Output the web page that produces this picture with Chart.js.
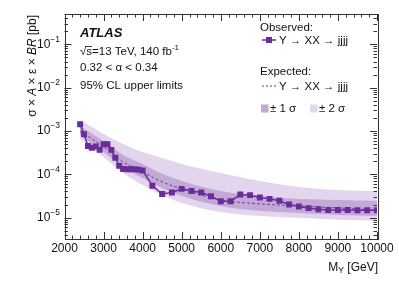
<!DOCTYPE html>
<html><head><meta charset="utf-8">
<script src="https://cdn.jsdelivr.net/npm/chart.js@4"></script>
<style>html,body{margin:0;padding:0;background:#fff}</style>
</head><body><canvas id="c" width="399" height="286"></canvas>
<script>
// ---- data ----
const obsMass = [2400,2500,2600,2700,2800,2900,3000,3100,3200,3300,3400,3500,3600,3700,3800,3900,4000,
  4250,4500,4750,5000,5250,5500,5750,6000,6250,6500,6750,7000,7250,7500,7750,8000,8250,8500,8750,9000,9250,9500,9750,10000];
const obsLimit = [1.43e-3,8.4e-4,4.5e-4,4.1e-4,4.35e-4,3.65e-4,4.9e-4,4.9e-4,3.65e-4,2.4e-4,1.56e-4,1.32e-4,1.30e-4,1.30e-4,1.30e-4,1.28e-4,1.22e-4,
  5.4e-5,3.5e-5,3.8e-5,4.6e-5,4.1e-5,3.8e-5,3.1e-5,2.37e-5,2.37e-5,3.4e-5,3.3e-5,2.9e-5,2.7e-5,2.45e-5,2.0e-5,1.8e-5,1.65e-5,1.55e-5,1.5e-5,1.5e-5,1.49e-5,1.48e-5,1.47e-5,1.47e-5];
const expMass = [2400,3000,3500,4000,4500,5000,6000,7000,8000,9000,10000];
const expLimit = [1.0e-3,4.25e-4,1.92e-4,1.13e-4,6.65e-5,4.58e-5,2.56e-5,2.07e-5,1.86e-5,1.67e-5,1.5e-5];
const plus2 = [1.78e-3,8.5e-4,4.99e-4,3.27e-4,2.38e-4,1.73e-4,1.07e-4,7.0e-5,5.1e-5,4.35e-5,4.1e-5];
const plus1 = [1.3e-3,5.85e-4,2.79e-4,1.73e-4,1.02e-4,7.0e-5,4.1e-5,3.16e-5,2.7e-5,2.56e-5,2.43e-5];
const minus1 = [8.05e-4,3.27e-4,1.47e-4,8.2e-5,4.83e-5,3.16e-5,1.86e-5,1.43e-5,1.28e-5,1.15e-5,1.09e-5];
const minus2 = [6.5e-4,2.5e-4,1.07e-4,5.67e-5,3.33e-5,2.18e-5,1.35e-5,1.09e-5,9.85e-6,8.85e-6,8.4e-6];
const xTicks = [2000,3000,4000,5000,6000,7000,8000,9000,10000];
const yDecades = [-5,-4,-3,-2,-1];

// ---- style ----
const FONT = '"Liberation Sans", Arial, Helvetica, sans-serif';
const PURPLE = '#6a2c9a';
const BAND1 = '#c2a9d6';
const BAND2 = '#e2d5ed';
const TXT = '#111';

const pts = (xs, ys) => xs.map((x, i) => ({x, y: ys[i]}));

function rich(ctx, parts, x, y, align) {
  let w = 0;
  parts.forEach(p => { ctx.font = p[1]; w += ctx.measureText(p[0]).width; });
  let cx = align === 'right' ? x - w : x;
  parts.forEach(p => { ctx.font = p[1]; ctx.fillText(p[0], cx, y + (p[2] || 0)); cx += ctx.measureText(p[0]).width; });
  return w;
}

const deco = {
  id: 'deco',
  afterDatasetsDraw(chart) {
    const {ctx, chartArea: a, scales: {x, y}} = chart;
    ctx.save();
    ctx.strokeStyle = '#333'; ctx.lineWidth = 1;
    ctx.beginPath();
    for (let v = 2000; v <= 10000; v += 200) {
      const px = Math.round(x.getPixelForValue(v)) + 0.5;
      const len = (v % 1000 === 0) ? 7 : 3.5;
      ctx.moveTo(px, a.bottom); ctx.lineTo(px, a.bottom - len);
      ctx.moveTo(px, a.top); ctx.lineTo(px, a.top + len);
    }
    for (let e = -6; e <= 0; e++) {
      for (let k = 1; k <= 9; k++) {
        const v = k * Math.pow(10, e);
        if (v < y.min || v > y.max) continue;
        const py = Math.round(y.getPixelForValue(v)) + 0.5;
        const len = k === 1 ? 7 : 3.5;
        ctx.moveTo(a.left, py); ctx.lineTo(a.left + len, py);
        ctx.moveTo(a.right, py); ctx.lineTo(a.right - len, py);
      }
    }
    ctx.stroke();
    ctx.strokeRect(Math.round(a.left) + 0.5, Math.round(a.top) + 0.5, Math.round(a.right - a.left), Math.round(a.bottom - a.top));

    ctx.fillStyle = TXT;
    ctx.textBaseline = 'middle';
    yDecades.forEach(d => {
      const py = y.getPixelForValue(Math.pow(10, d));
      rich(ctx, [['10', '12px ' + FONT, 0], ['\u2212' + Math.abs(d), '8.5px ' + FONT, -5]], 60, py, 'right');
    });
    ctx.save();
    ctx.translate(33, 15);
    ctx.rotate(-Math.PI / 2);
    const n = '12px ' + FONT, it = 'italic 12px ' + FONT;
    rich(ctx, [['\u03c3 \u00d7 ', n], ['A', it], [' \u00d7 \u03b5 \u00d7 ', n], ['BR', it], [' [pb]', n]], 0, 0, 'right');
    ctx.restore();
    rich(ctx, [['M', n], ['Y', '8.5px ' + FONT, 3], [' [GeV]', n]], 378, 268, 'right');

    const t = '11.5px ' + FONT;
    ctx.font = 'bold italic 13px ' + FONT;
    ctx.fillText('ATLAS', 80, 33);
    const w0 = rich(ctx, [['\u221a', t]], 80, 52);
    ctx.font = t;
    const sw = ctx.measureText('s').width;
    ctx.beginPath(); ctx.lineWidth = 0.8; ctx.strokeStyle = TXT;
    ctx.moveTo(80 + w0 - 1, 46.5); ctx.lineTo(80 + w0 + sw, 46.5); ctx.stroke();
    rich(ctx, [['s=13 TeV, 140 fb', t], ['-1', '8px ' + FONT, -4]], 80 + w0, 52);
    rich(ctx, [['0.32 < \u03b1 < 0.34', t]], 80, 68);
    rich(ctx, [['95% CL upper limits', t]], 80, 86);

    rich(ctx, [['Observed:', t]], 260, 27.5);
    ctx.strokeStyle = PURPLE; ctx.lineWidth = 1.5;
    ctx.beginPath(); ctx.moveTo(262, 40); ctx.lineTo(276, 40); ctx.stroke();
    ctx.fillStyle = PURPLE; ctx.fillRect(266, 37, 6, 6);
    ctx.fillStyle = TXT;
    rich(ctx, [['Y \u2192 XX \u2192 jjjj', t]], 279, 40.5);
    rich(ctx, [['Expected:', t]], 260, 71.5);
    ctx.strokeStyle = PURPLE; ctx.lineWidth = 1; ctx.setLineDash([2, 2]);
    ctx.beginPath(); ctx.moveTo(262, 86); ctx.lineTo(276, 86); ctx.stroke();
    ctx.setLineDash([]);
    rich(ctx, [['Y \u2192 XX \u2192 jjjj', t]], 279, 86.5);
    ctx.fillStyle = BAND1; ctx.fillRect(261, 104.5, 7.5, 8);
    ctx.fillStyle = BAND2; ctx.fillRect(310, 104.5, 7.5, 8);
    ctx.fillStyle = TXT;
    rich(ctx, [['\u00b1 1 \u03c3', t]], 270, 108.5);
    rich(ctx, [['\u00b1 2 \u03c3', t]], 319, 108.5);
    ctx.restore();
  }
};

new Chart(document.getElementById('c'), {
  type: 'line',
  data: {
    datasets: [
      {label: 'Observed', data: pts(obsMass, obsLimit), borderColor: PURPLE, backgroundColor: PURPLE, borderWidth: 1.5,
       pointStyle: 'rect', pointRadius: 4.2, pointBorderWidth: 0, fill: false, order: 1},
      {label: 'Expected', data: pts(expMass, expLimit), borderColor: PURPLE, borderWidth: 1, borderDash: [2.5, 2.5],
       pointRadius: 0, fill: false, cubicInterpolationMode: 'monotone', order: 2},
      {label: '+1s', data: pts(expMass, plus1), borderWidth: 0, pointRadius: 0, backgroundColor: BAND1, fill: '+1', cubicInterpolationMode: 'monotone', order: 3},
      {label: '-1s', data: pts(expMass, minus1), borderWidth: 0, pointRadius: 0, fill: false, cubicInterpolationMode: 'monotone', order: 3},
      {label: '+2s', data: pts(expMass, plus2), borderWidth: 0, pointRadius: 0, backgroundColor: BAND2, fill: '+1', cubicInterpolationMode: 'monotone', order: 4},
      {label: '-2s', data: pts(expMass, minus2), borderWidth: 0, pointRadius: 0, fill: false, cubicInterpolationMode: 'monotone', order: 4}
    ]
  },
  options: {
    responsive: false, animation: false, devicePixelRatio: 1,
    layout: {padding: {left: 0, right: 22, top: 14, bottom: 0}},
    plugins: {legend: {display: false}, tooltip: {enabled: false}, filler: {drawTime: 'beforeDatasetDraw'}},
    scales: {
      x: {type: 'linear', min: 2000, max: 10000,
          afterFit: s => { s.height = 47; },
          afterBuildTicks: s => { s.ticks = xTicks.map(v => ({value: v})); },
          grid: {display: false, drawTicks: false}, border: {display: false},
          ticks: {padding: 2, color: TXT, font: {family: FONT, size: 12}, maxRotation: 0, autoSkip: false,
                  callback: v => String(v)}},
      y: {type: 'logarithmic', min: 3.2e-6, max: 0.5,
          afterFit: s => { s.width = 64.5; },
          grid: {display: false, drawTicks: false}, border: {display: false},
          ticks: {display: false}}
    }
  },
  plugins: [deco]
});
</script></body></html>
